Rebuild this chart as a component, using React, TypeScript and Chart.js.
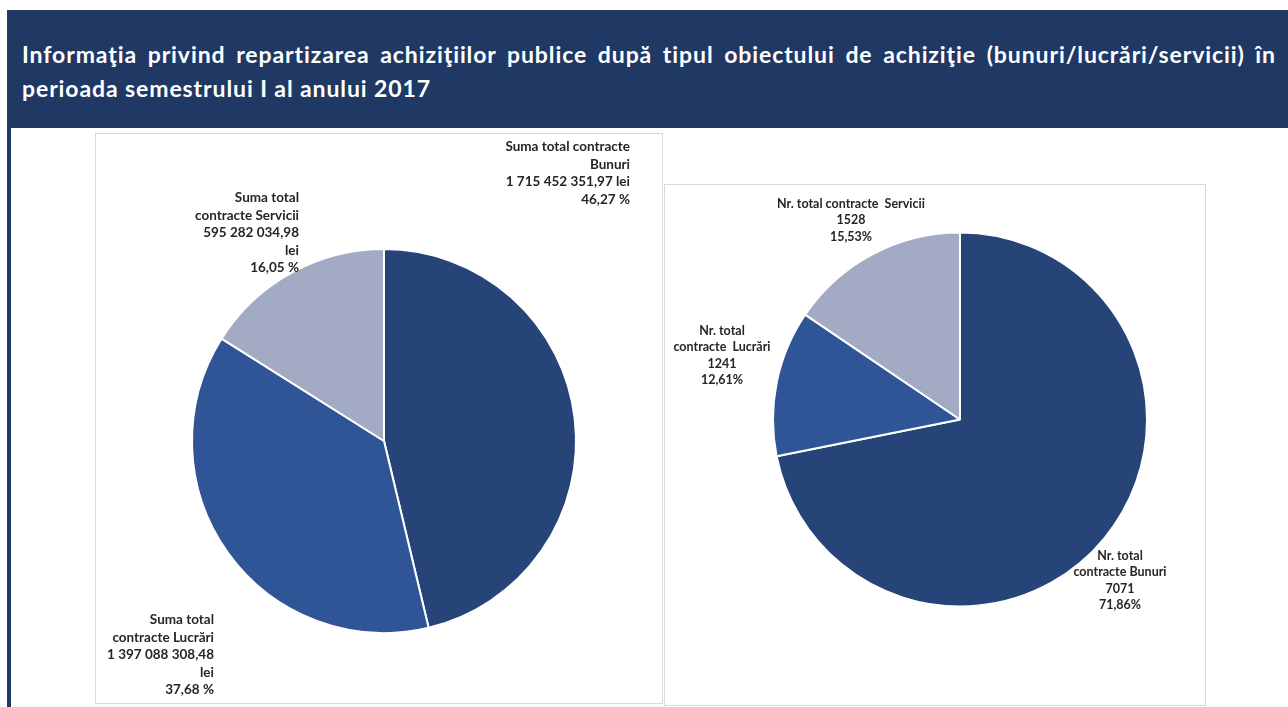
import React, { useEffect, useRef } from "react";
import { Chart, registerables } from "chart.js";

Chart.register(...registerables);

const titleLine1 =
  "Informaţia privind repartizarea achiziţiilor publice după tipul obiectului de achiziţie (bunuri/lucrări/servicii) în";
const titleLine2 = "perioada semestrului I al anului 2017";

const categories = ["Bunuri", "Lucrări", "Servicii"];
const sumValues = [1715452351.97, 1397088308.48, 595282034.98];
const sumTexts = ["1 715 452 351,97", "1 397 088 308,48", "595 282 034,98"];
const countValues = [7071, 1241, 1528];

const colors = ["#264478", "#2F5597", "#A3AAC3"];

const FONT = "Lato, 'Open Sans', sans-serif";

function pct(values: number[], i: number) {
  const total = values.reduce((a, b) => a + b, 0);
  return ((values[i] / total) * 100).toFixed(2).replace(".", ",");
}

function PieCanvas(props: {
  values: number[];
  width: number;
  height: number;
  padding: { left: number; right: number; top: number; bottom: number };
}) {
  const ref = useRef<HTMLCanvasElement | null>(null);
  useEffect(() => {
    if (!ref.current) return;
    const chart = new Chart(ref.current, {
      type: "pie",
      data: {
        labels: categories,
        datasets: [
          {
            data: props.values,
            backgroundColor: colors,
            borderColor: "#ffffff",
            borderWidth: 2,
          },
        ],
      },
      options: {
        animation: false,
        responsive: false,
        maintainAspectRatio: false,
        layout: { padding: props.padding },
        plugins: { legend: { display: false }, tooltip: { enabled: false } },
      },
    });
    return () => chart.destroy();
  }, []);
  return (
    <canvas
      ref={ref}
      width={props.width}
      height={props.height}
      style={{ width: props.width, height: props.height, display: "block" }}
    />
  );
}

function Label(props: {
  lines: string[];
  x: number;
  y: number;
  align: "left" | "right" | "center";
  size: number;
  lh: number;
}) {
  const style: React.CSSProperties = {
    position: "absolute",
    top: props.y,
    fontFamily: FONT,
    fontWeight: 700,
    fontSize: props.size,
    lineHeight: props.lh + "px",
    color: "#262626",
    whiteSpace: "pre",
    textAlign: props.align,
  };
  if (props.align === "right") {
    style.right = 1288 - props.x;
  } else if (props.align === "center") {
    style.left = props.x - 150;
    style.width = 300;
  } else {
    style.left = props.x;
  }
  return (
    <div style={style}>
      {props.lines.map((l, i) => (
        <div key={i}>{l}</div>
      ))}
    </div>
  );
}

export default function App() {
  return (
    <div
      style={{
        position: "fixed",
        left: 0,
        top: 0,
        width: 1288,
        height: 707,
        background: "#ffffff",
        overflow: "hidden",
      }}
    >
      <div
        style={{
          position: "absolute",
          left: 7,
          top: 10,
          width: 1281,
          height: 118,
          background: "#203864",
        }}
      />
      <div
        style={{
          position: "absolute",
          left: 7,
          top: 128,
          width: 4,
          height: 579,
          background: "#203864",
        }}
      />
      <div
        style={{
          position: "absolute",
          left: 22,
          top: 37,
          width: 1254,
          color: "#ffffff",
          fontFamily: FONT,
          fontWeight: 700,
          fontSize: 23,
          letterSpacing: 0.9,
          lineHeight: "34px",
        }}
      >
        <div style={{ textAlign: "justify", textAlignLast: "justify", whiteSpace: "nowrap" }}>
          {titleLine1}
        </div>
        <div>{titleLine2}</div>
      </div>

      <div
        style={{
          position: "absolute",
          left: 95,
          top: 133,
          width: 568,
          height: 571,
          boxSizing: "border-box",
          border: "1px solid #d9d9d9",
          background: "#fff",
        }}
      >
        <PieCanvas
          values={sumValues}
          width={566}
          height={569}
          padding={{ left: 95, right: 85, top: 114, bottom: 69 }}
        />
      </div>

      <div
        style={{
          position: "absolute",
          left: 664,
          top: 184,
          width: 542,
          height: 522,
          boxSizing: "border-box",
          border: "1px solid #d9d9d9",
          background: "#fff",
        }}
      >
        <PieCanvas
          values={countValues}
          width={540}
          height={520}
          padding={{ left: 107, right: 57, top: 46, bottom: 97 }}
        />
      </div>

      <Label
        lines={[
          "Suma total contracte",
          categories[0],
          sumTexts[0] + " lei",
          pct(sumValues, 0) + " %",
        ]}
        x={630}
        y={138}
        align="right"
        size={13.5}
        lh={17.6}
      />
      <Label
        lines={[
          "Suma total",
          "contracte " + categories[2],
          sumTexts[2],
          "lei",
          pct(sumValues, 2) + " %",
        ]}
        x={299}
        y={189}
        align="right"
        size={13.5}
        lh={17.6}
      />
      <Label
        lines={[
          "Suma total",
          "contracte " + categories[1],
          sumTexts[1],
          "lei",
          pct(sumValues, 1) + " %",
        ]}
        x={214}
        y={611}
        align="right"
        size={13.5}
        lh={17.6}
      />
      <Label
        lines={[
          "Nr. total contracte  " + categories[2],
          String(countValues[2]),
          pct(countValues, 2) + "%",
        ]}
        x={851}
        y={196}
        align="center"
        size={12.5}
        lh={16.3}
      />
      <Label
        lines={[
          "Nr. total",
          "contracte  " + categories[1],
          String(countValues[1]),
          pct(countValues, 1) + "%",
        ]}
        x={722}
        y={323}
        align="center"
        size={12.5}
        lh={16.3}
      />
      <Label
        lines={[
          "Nr. total",
          "contracte " + categories[0],
          String(countValues[0]),
          pct(countValues, 0) + "%",
        ]}
        x={1120}
        y={548}
        align="center"
        size={12.5}
        lh={16.3}
      />
    </div>
  );
}
